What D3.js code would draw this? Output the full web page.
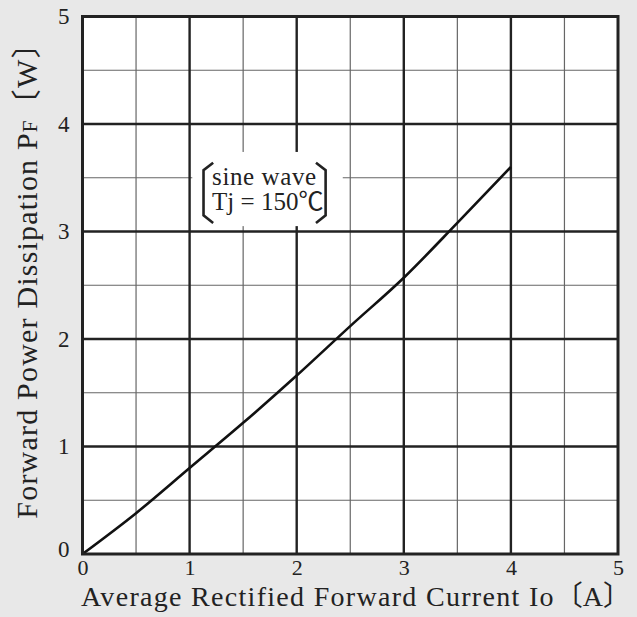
<!DOCTYPE html>
<html>
<head>
<meta charset="utf-8">
<style>
  body { margin: 0; background: #e8e8e8; }
  svg { display: block; }
  .tick text { font-family: "Liberation Serif", "Noto Sans CJK JP", serif; fill: #222; }
  .title { font-family: "Liberation Serif", "Noto Sans CJK JP", serif; fill: #222; }
</style>
</head>
<script src="https://d3js.org/d3.v7.min.js"></script>
<body>
<div id="chart"></div>
<script>

// tick values on both axes
var xTicks = [0, 1, 2, 3, 4, 5];
var yTicks = [0, 1, 2, 3, 4, 5];
var minorTicks = [0.5, 1.5, 2.5, 3.5, 4.5];

// curve: Io [A] vs PF [W]
var currentA = [0, 0.5, 1, 1.5, 2, 2.5, 3, 3.5, 4];
var powerW   = [0, 0.38, 0.8, 1.22, 1.66, 2.12, 2.57, 3.08, 3.6];

var width = 637,
    height = 617,
    margin = {top: 16.5, right: 19, bottom: 63, left: 82.5};

var svg = d3.select("#chart")
  .append("svg")
  .attr("width", width)
  .attr("height", height);

svg.append("rect")
  .attr("width", width)
  .attr("height", height)
  .attr("fill", "#e8e8e8");

var x = d3.scaleLinear().domain([0, 5]).range([margin.left, width - margin.right]);
var y = d3.scaleLinear().domain([0, 5]).range([height - margin.bottom, margin.top]);

// plot background
svg.append("rect")
  .attr("x", x(0)).attr("y", y(5))
  .attr("width", x(5) - x(0)).attr("height", y(0) - y(5))
  .attr("fill", "#fff");

var grid = svg.append("g");

/* minor grid */
grid.selectAll(".vminor").data(minorTicks).enter().append("line")
  .attr("x1", d => x(d)).attr("x2", d => x(d))
  .attr("y1", y(0)).attr("y2", y(5))
  .attr("stroke", "#666").attr("stroke-width", 1.2);
grid.selectAll(".hminor").data(minorTicks).enter().append("line")
  .attr("y1", d => y(d)).attr("y2", d => y(d))
  .attr("x1", x(0)).attr("x2", x(5))
  .attr("stroke", "#666").attr("stroke-width", 1.2);

/* major grid */
grid.selectAll(".vmajor").data(xTicks.slice(1, -1)).enter().append("line")
  .attr("x1", d => x(d)).attr("x2", d => x(d))
  .attr("y1", y(0)).attr("y2", y(5))
  .attr("stroke", "#222").attr("stroke-width", 2.4);
grid.selectAll(".hmajor").data(yTicks.slice(1, -1)).enter().append("line")
  .attr("y1", d => y(d)).attr("y2", d => y(d))
  .attr("x1", x(0)).attr("x2", x(5))
  .attr("stroke", "#222").attr("stroke-width", 2.4);

/* condition note, white box hides the grid */
var note = svg.append("g");
note.append("rect")
  .attr("x", x(1.025)).attr("y", y(3.74))
  .attr("width", x(2.43) - x(1.025)).attr("height", y(3.05) - y(3.74))
  .attr("fill", "#fff");

var bracket = d3.line().x(d => x(d[0])).y(d => y(d[1]));
note.append("path")
  .attr("d", bracket([[1.22, 3.64], [1.13, 3.57], [1.13, 3.15], [1.22, 3.08]]))
  .attr("fill", "none").attr("stroke", "#222").attr("stroke-width", 2.6);
note.append("path")
  .attr("d", bracket([[2.18, 3.64], [2.27, 3.57], [2.27, 3.15], [2.18, 3.08]]))
  .attr("fill", "none").attr("stroke", "#222").attr("stroke-width", 2.6);

note.append("text").attr("class", "title")
  .attr("x", x(1.21)).attr("y", y(3.43))
  .attr("font-size", 25)
  .attr("letter-spacing", 0.6)
  .text("sine wave");
note.append("text").attr("class", "title")
  .attr("x", x(1.21)).attr("y", y(3.2))
  .attr("font-size", 25)
  .text("Tj = 150℃");

/* curve */
var line = d3.line()
  .x(d => x(d[0]))
  .y(d => y(d[1]))
  .curve(d3.curveMonotoneX);

svg.append("path")
  .datum(currentA.map((d, i) => [d, powerW[i]]))
  .attr("d", line)
  .attr("fill", "none")
  .attr("stroke", "#111")
  .attr("stroke-width", 2.6);

/* frame */
svg.append("rect")
  .attr("x", x(0)).attr("y", y(5))
  .attr("width", x(5) - x(0)).attr("height", y(0) - y(5))
  .attr("fill", "none")
  .attr("stroke", "#222")
  .attr("stroke-width", 3);

/* axes: only labels */
var xAxis = d3.axisBottom(x).tickValues(xTicks).tickSize(0).tickPadding(5).tickFormat(d3.format("d"));
var yAxis = d3.axisLeft(y).tickValues(yTicks).tickSize(0).tickPadding(13).tickFormat(d3.format("d"));

svg.append("g")
  .attr("transform", `translate(0,${y(0)})`)
  .call(xAxis)
  .call(g => g.select(".domain").remove())
  .selectAll("text").attr("font-size", 22).attr("fill", "#222");

svg.append("g")
  .attr("transform", `translate(${x(0)},0)`)
  .call(yAxis)
  .call(g => g.select(".domain").remove())
  .selectAll("text").attr("font-size", 23).attr("fill", "#222")
  .attr("dy", (d, i) => i === 0 ? "0.1em" : "0.32em");

/* axis titles */
var xt = svg.append("text").attr("class", "title")
  .attr("x", 356)
  .attr("y", 606)
  .attr("text-anchor", "middle")
  .attr("font-size", 28)
  .attr("letter-spacing", 1.3);
xt.append("tspan").text("Average Rectified Forward Current I");
xt.append("tspan").text("o");
xt.append("tspan").attr("letter-spacing", 0).text("〔A〕");

var yt = svg.append("text").attr("class", "title")
  .attr("transform", `translate(37,273) rotate(-90)`)
  .attr("text-anchor", "middle")
  .attr("font-size", 30)
  .attr("letter-spacing", 1.2);
yt.append("tspan").text("Forward Power Dissipation P");
yt.append("tspan").attr("font-size", 21).text("F");
yt.append("tspan").text("〔W〕");

</script>
</body>
</html>
